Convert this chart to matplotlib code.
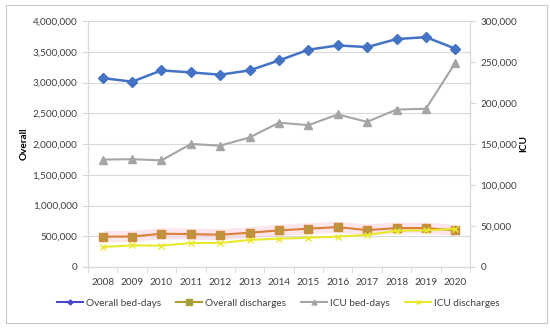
import matplotlib.pyplot as plt
from matplotlib.patches import Rectangle
from matplotlib.ticker import FuncFormatter, MultipleLocator
from matplotlib.lines import Line2D

years = ['2008', '2009', '2010', '2011', '2012', '2013', '2014',
         '2015', '2016', '2017', '2018', '2019', '2020']

overall_bed_days = [3072000, 3013000, 3197000, 3164000, 3127000, 3197000, 3359000,
                    3533000, 3603000, 3576000, 3706000, 3738000, 3550000]
overall_discharges = [493000, 495000, 541000, 535000, 525000, 557000, 595000,
                      623000, 649000, 600000, 633000, 633000, 595000]
icu_bed_days = [131000, 131500, 130000, 150000, 148000, 158000, 176000,
                173000, 186000, 177000, 192000, 193000, 249000]
icu_discharges = [24400, 26400, 26000, 29300, 29300, 33000, 34500,
                  35700, 37000, 39000, 44300, 44700, 46300]

plt.rcParams['font.family'] = ['Lato', 'DejaVu Sans']
txt = '#404040'
grid = '#d9d9d9'
fs = 7.2

fig = plt.figure(figsize=(5.5, 3.28), dpi=100)
fig.patches.append(Rectangle((6 / 550, 5 / 328), 541 / 550, 318 / 328,
                             transform=fig.transFigure, fill=False,
                             edgecolor='#c8c8c8', linewidth=0.8))

ax = fig.add_axes([88 / 550, 61 / 328, 382 / 550, 246 / 328])
ax2 = ax.twinx()

x = list(range(len(years)))

# pink glow behind overall discharges
ax.plot(x, overall_discharges, color='#fbd0dc', linewidth=8, alpha=0.55,
        solid_capstyle='butt', zorder=1)
ax.plot(x, overall_bed_days, color='#4472C4', linewidth=1.8,
        marker='D', markersize=5, zorder=3)
ax.plot(x, overall_discharges, color='#D9803A', linewidth=1.5,
        marker='s', markersize=6, markerfacecolor='#BC9440',
        markeredgecolor='#D08A3A', zorder=3)
ax2.plot(x, icu_bed_days, color='#A5A5A5', linewidth=1.5,
         marker='^', markersize=6)
ax2.plot(x, icu_discharges, color='#E8E82C', linewidth=1.5,
         marker='x', markersize=5, markeredgewidth=1)

ax.set_xlim(-0.5, 12.5)
ax.set_ylim(0, 4000000)
ax2.set_ylim(0, 300000)
ax.yaxis.set_major_locator(MultipleLocator(500000))
ax2.yaxis.set_major_locator(MultipleLocator(50000))
fmt = FuncFormatter(lambda v, p: f'{int(v):,}')
ax.yaxis.set_major_formatter(fmt)
ax2.yaxis.set_major_formatter(fmt)

ax.set_xticks(x)
ax.set_xticklabels(years)
ax.set_xticks([i - 0.5 for i in range(len(years) + 1)], minor=True)
ax.tick_params(axis='x', which='major', length=0, labelsize=fs,
               labelcolor=txt, pad=8)
ax.tick_params(axis='x', which='minor', length=4, color=grid)
ax.tick_params(axis='y', length=4, color=grid, labelsize=fs, labelcolor=txt)
ax2.tick_params(axis='y', length=4, color=grid, labelsize=fs, labelcolor=txt)

ax.grid(axis='y', color=grid, linewidth=0.8)
ax.set_axisbelow(True)
for a in (ax, ax2):
    a.spines['top'].set_visible(False)
    for s in ('left', 'right', 'bottom'):
        a.spines[s].set_color(grid)

ax.set_ylabel('Overall', fontsize=fs, fontweight='bold', color='black', labelpad=3)
ax2.set_ylabel('ICU', fontsize=fs, fontweight='bold', color='black', labelpad=1)

handles = [
    Line2D([], [], color='#4848C8', linewidth=1.5, marker='D', markersize=2.5),
    Line2D([], [], color='#B0A030', linewidth=1.5, marker='s', markersize=4,
           markerfacecolor='#9C9C40'),
    Line2D([], [], color='#A5A5A5', linewidth=1.5, marker='^', markersize=3.5),
    Line2D([], [], color='#E8E82C', linewidth=1.5, marker='x', markersize=3.5),
]
fig.legend(handles, ['Overall bed-days', 'Overall discharges', 'ICU bed-days',
                     'ICU discharges'],
           loc='center', bbox_to_anchor=(278 / 550, 25 / 328), ncol=4, frameon=False,
           fontsize=fs, handlelength=2.6, handletextpad=0.3, columnspacing=1.5,
           labelcolor=txt)

fig.savefig('out.png', dpi=100)
